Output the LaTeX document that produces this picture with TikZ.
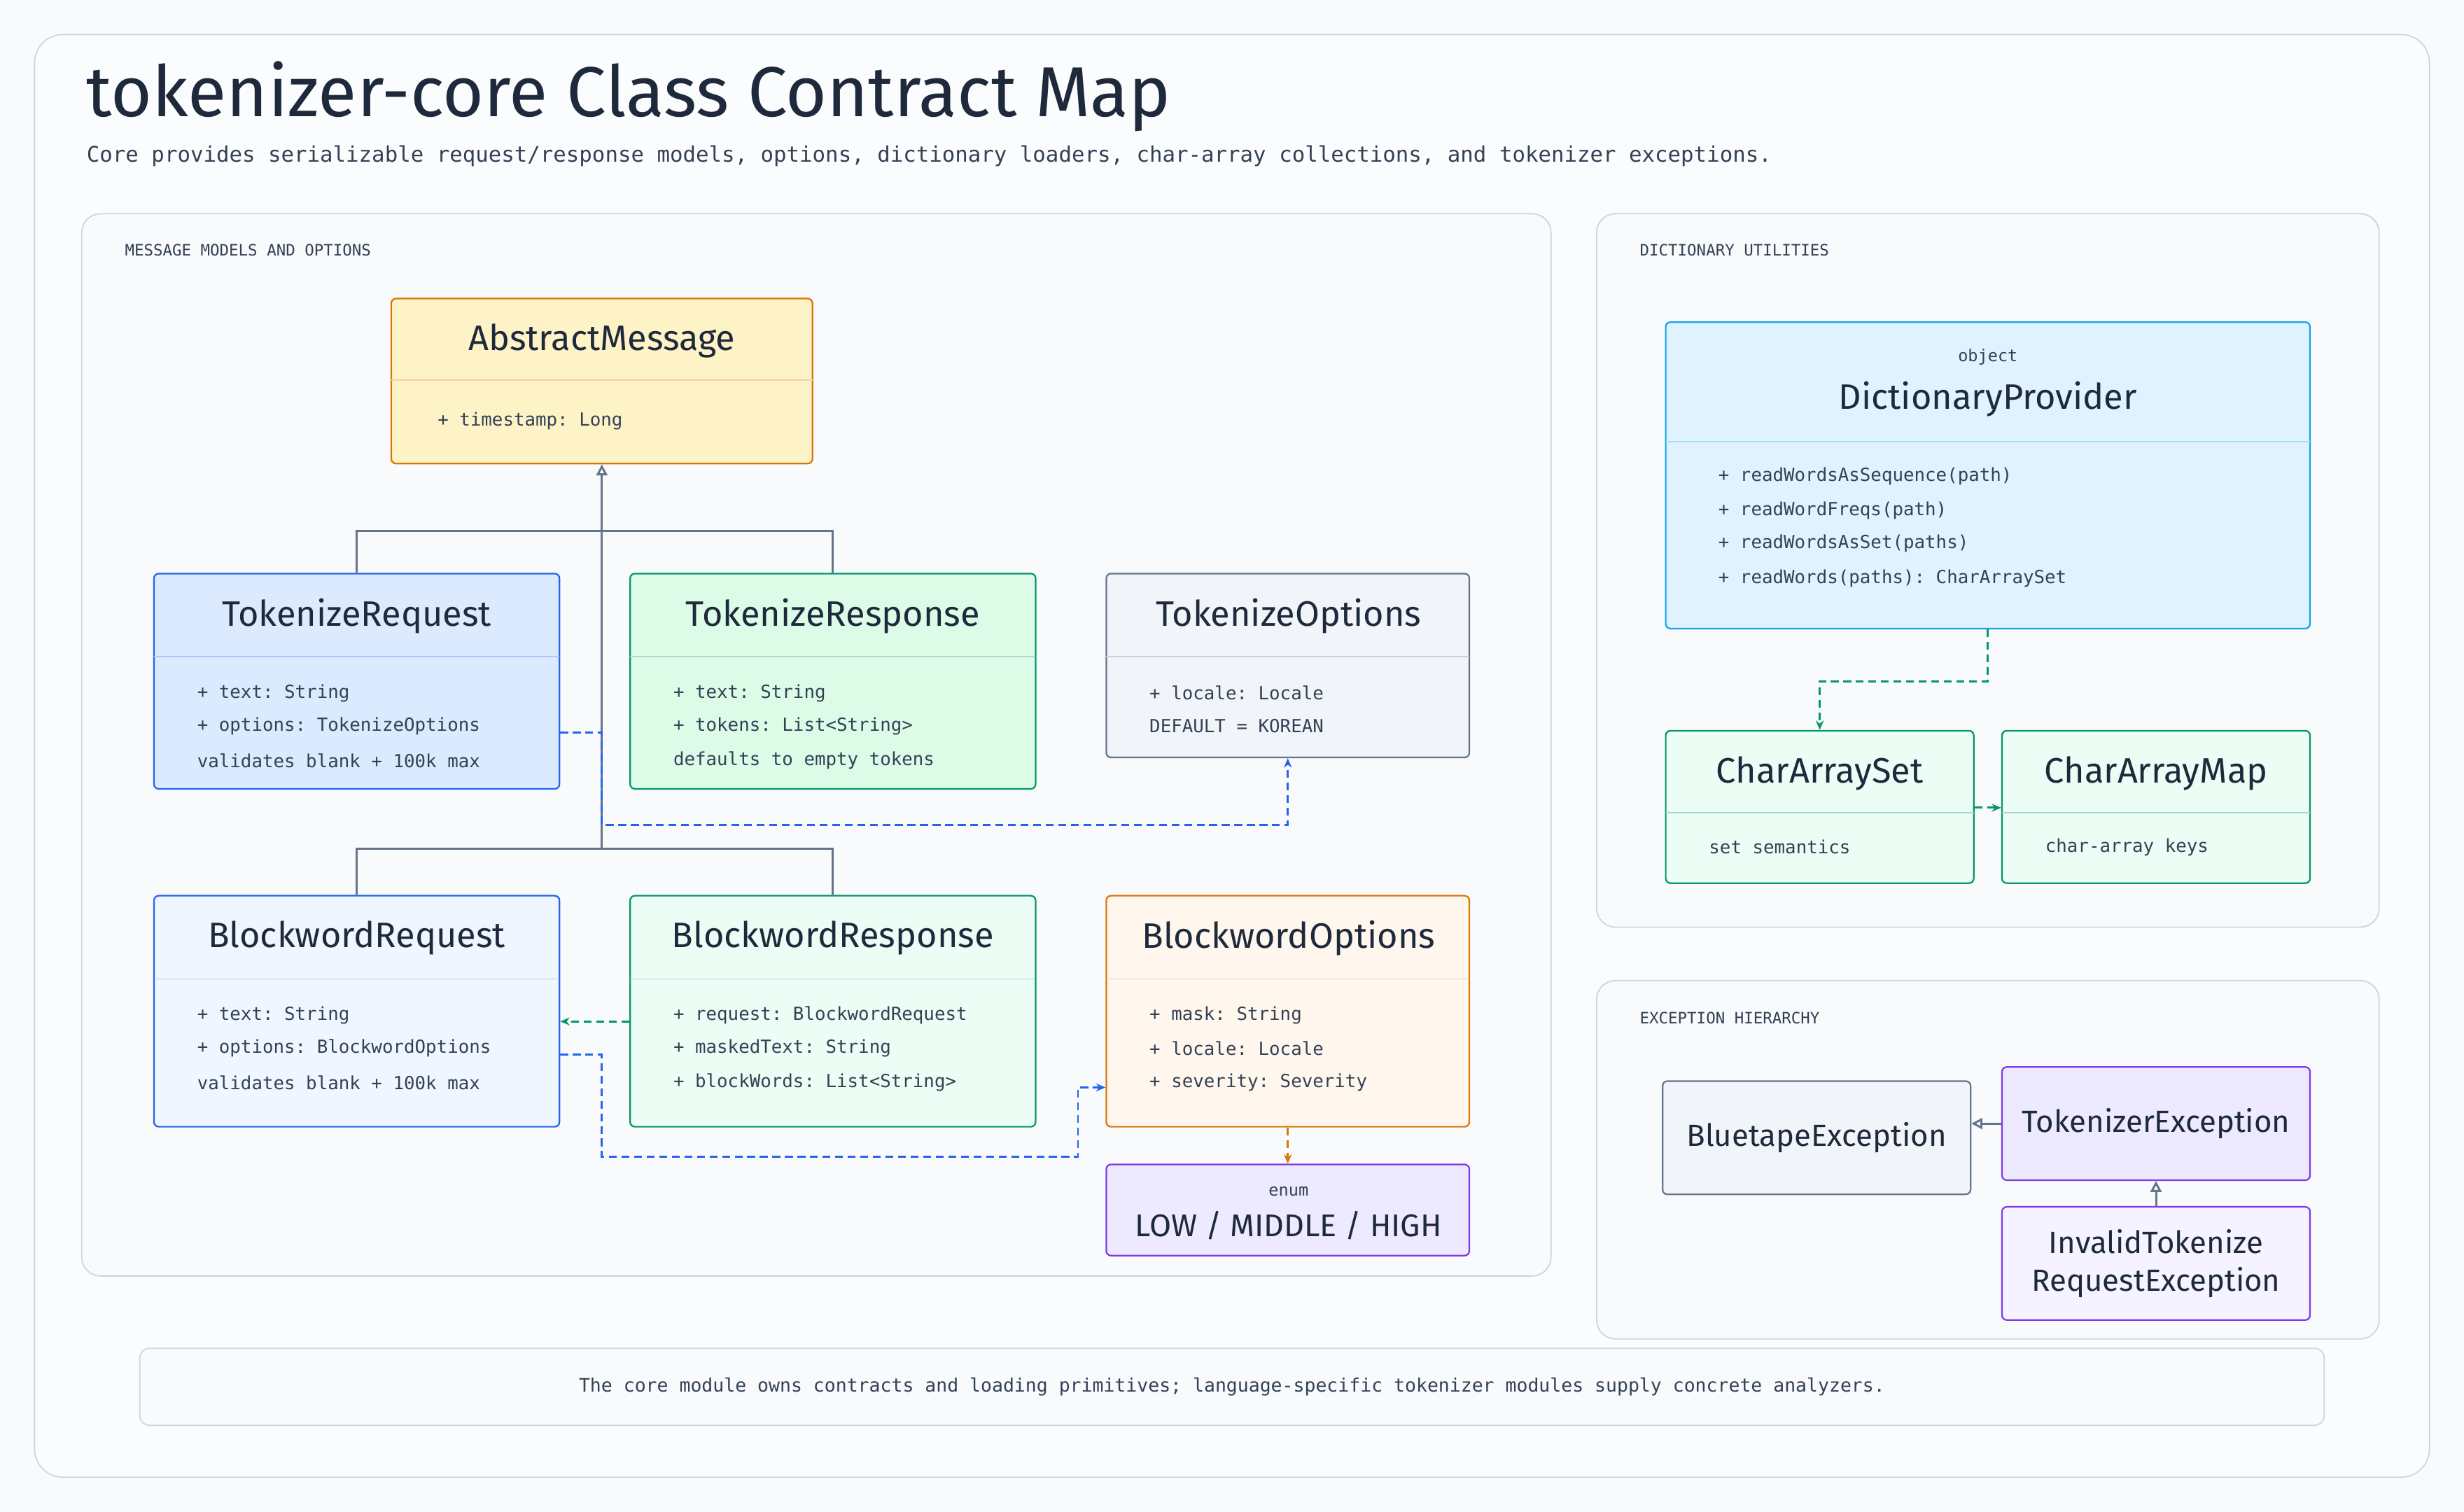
\documentclass[tikz,border=0pt]{standalone}
\usepackage{fontspec}
\setmainfont{Fira Sans}
\setmonofont{DejaVu Sans Mono}
\usetikzlibrary{fit,arrows.meta,calc}
\definecolor{bg}{HTML}{F8FAFC}
\definecolor{bord}{HTML}{CBD5E1}
\definecolor{slate}{HTML}{64748B}
\definecolor{ink}{HTML}{1E293B}
\definecolor{sub}{HTML}{334155}
\definecolor{blueB}{HTML}{2563EB}
\definecolor{greenB}{HTML}{059669}
\definecolor{orangeB}{HTML}{D97706}
\definecolor{purpleB}{HTML}{7C3AED}
\definecolor{skyB}{HTML}{0EA5E9}
\definecolor{fYellow}{HTML}{FEF3C7}
\definecolor{fBlue}{HTML}{DBEAFE}
\definecolor{fBlueL}{HTML}{EFF6FF}
\definecolor{fGreen}{HTML}{DCFCE7}
\definecolor{fGreenL}{HTML}{ECFDF5}
\definecolor{fSlate}{HTML}{F1F5F9}
\definecolor{fOrange}{HTML}{FFF7ED}
\definecolor{fPurple}{HTML}{EDE9FE}
\definecolor{fPurpleL}{HTML}{F5F3FF}
\definecolor{fSky}{HTML}{E0F2FE}
\tikzset{
 box/.style={draw, rounded corners=3pt, line width=1pt, inner sep=0pt},
 panel/.style={draw=bord, rounded corners=12pt, line width=0.8pt, fill=bg, inner sep=0pt},
 ttl/.style={font=\fontsize{22.5}{24}\selectfont, text=ink, anchor=center},
 attr/.style={font=\ttfamily\fontsize{11.5}{13}\selectfont, text=sub, anchor=west},
 plab/.style={font=\ttfamily\fontsize{10}{12}\selectfont, text=sub, anchor=west},
 inh/.style={draw=slate, line width=1.3pt},
 inharr/.style={inh, -{Triangle[open,length=7pt,width=7pt]}},
 dep/.style={line width=1.3pt, dashed, dash pattern=on 5pt off 3pt, -{Stealth[length=6pt,width=5pt]}},
}
\begin{document}
\begin{tikzpicture}[x=1pt,y=-1pt]
\useasboundingbox (0,0) rectangle (1568,962);
\fill[bg] (0,0) rectangle (1568,962);
\node[fit={(22,22)(1546,940)}, draw=bord, fill=white!40!bg, rounded corners=18pt, line width=0.8pt, inner sep=0] (outer) {};
\node[anchor=base west, font=\fontsize{45}{48}\selectfont, text=ink, inner sep=0] (title) at (55,74) {tokenizer-core Class Contract Map};
\node[anchor=base west, font=\ttfamily\fontsize{13.7}{16}\selectfont, text=sub, inner sep=0] (subt) at (55,103) {Core provides serializable request/response models, options, dictionary loaders, char-array collections, and tokenizer exceptions.};
% panels
\node[panel, fit={(52,136)(987,812)}] (p1) {};
\node[panel, fit={(1016,136)(1514,590)}] (p2) {};
\node[panel, fit={(1016,624)(1514,852)}] (p3) {};
\node[plab] (l1) at (76,159) {MESSAGE MODELS AND OPTIONS};
\node[plab] (l2) at (1040,159) {DICTIONARY UTILITIES};
\node[plab] (l3) at (1040,648) {EXCEPTION HIERARCHY};
% footer
\node[fit={(89,858)(1479,907)}, draw=bord, fill=bg, rounded corners=6pt, line width=0.8pt, inner sep=0] (foot) {};
\node[font=\ttfamily\fontsize{11.8}{14}\selectfont, text=sub] (ftxt) at (foot.center) {The core module owns contracts and loading primitives; language-specific tokenizer modules supply concrete analyzers.};
% classes
\newcommand{\cls}[8]{% name x1 y1 x2 y2 fill draw divider-y
 \node[box, fill=#6, draw=#7, fit={(#2,#3)(#4,#5)}] (#1) {};
 \draw[#7!35, line width=0.8pt] (#2,#8) -- (#4,#8);}
\cls{am}{249}{190}{517}{295}{fYellow}{orangeB}{242}
\node[ttl] (amT) at (383,217) {AbstractMessage};
\node[attr] (am1) at (275,268) {+ timestamp: Long};

\cls{treq}{98}{365}{356}{502}{fBlue}{blueB}{418}
\node[ttl] (treqT) at (227,392) {TokenizeRequest};
\node[attr] (treq1) at (122,441) {+ text: String};
\node[attr] (treq2) at (122,462) {+ options: TokenizeOptions};
\node[attr] (treq3) at (122,484) {validates blank + 100k max};

\cls{tres}{401}{365}{659}{502}{fGreen}{greenB}{418}
\node[ttl] (tresT) at (530,392) {TokenizeResponse};
\node[attr] (tres1) at (425,441) {+ text: String};
\node[attr] (tres2) at (425,462) {+ tokens: List<String>};
\node[attr] (tres3) at (425,484) {defaults to empty tokens};

\cls{topt}{704}{365}{935}{482}{fSlate}{slate}{418}
\node[ttl] (toptT) at (820,392) {TokenizeOptions};
\node[attr] (topt1) at (728,441) {+ locale: Locale};
\node[attr] (topt2) at (728,462) {DEFAULT = KOREAN};

\cls{breq}{98}{570}{356}{717}{fBlueL}{blueB}{623}
\node[ttl] (breqT) at (227,597) {BlockwordRequest};
\node[attr] (breq1) at (122,646) {+ text: String};
\node[attr] (breq2) at (122,667) {+ options: BlockwordOptions};
\node[attr] (breq3) at (122,689) {validates blank + 100k max};

\cls{bres}{401}{570}{659}{717}{fGreenL}{greenB}{623}
\node[ttl] (bresT) at (530,597) {BlockwordResponse};
\node[attr] (bres1) at (425,646) {+ request: BlockwordRequest};
\node[attr] (bres2) at (425,667) {+ maskedText: String};
\node[attr] (bres3) at (425,689) {+ blockWords: List<String>};

\cls{bopt}{704}{570}{935}{717}{fOrange}{orangeB}{623}
\node[ttl] (boptT) at (820,597) {BlockwordOptions};
\node[attr] (bopt1) at (728,646) {+ mask: String};
\node[attr] (bopt2) at (728,667) {+ locale: Locale};
\node[attr] (bopt3) at (728,689) {+ severity: Severity};

\node[box, fill=fPurple, draw=purpleB, fit={(704,741)(935,799)}] (enum) {};
\node[font=\ttfamily\fontsize{10.5}{12}\selectfont, text=sub] (enumS) at (820,758) {enum};
\node[font=\fontsize{20}{22}\selectfont, text=ink] (enumT) at (820,780) {LOW / MIDDLE / HIGH};

\cls{dp}{1060}{205}{1470}{400}{fSky}{skyB}{281}
\node[font=\ttfamily\fontsize{10.5}{12}\selectfont, text=sub] (dpS) at (1265,227) {object};
\node[ttl] (dpT) at (1265,254) {DictionaryProvider};
\node[attr] (dp1) at (1090,303) {+ readWordsAsSequence(path)};
\node[attr] (dp2) at (1090,325) {+ readWordFreqs(path)};
\node[attr] (dp3) at (1090,346) {+ readWordsAsSet(paths)};
\node[attr] (dp4) at (1090,368) {+ readWords(paths): CharArraySet};

\cls{cas}{1060}{465}{1256}{562}{fGreenL}{greenB}{517}
\node[ttl] (casT) at (1158,492) {CharArraySet};
\node[attr] (cas1) at (1084,539) {set semantics};
\cls{cam}{1274}{465}{1470}{562}{fGreenL}{greenB}{517}
\node[ttl] (camT) at (1372,492) {CharArrayMap};
\node[attr] (cam1) at (1298,539) {char-array keys};

\node[box, fill=fSlate, draw=slate, fit={(1058,688)(1254,760)}] (bte) {};
\node[font=\fontsize{19.5}{22}\selectfont, text=ink] (bteT) at (bte.center) {BluetapeException};
\node[box, fill=fPurple, draw=purpleB, fit={(1274,679)(1470,751)}] (tke) {};
\node[font=\fontsize{19.5}{22}\selectfont, text=ink] (tkeT) at (tke.center) {TokenizerException};
\node[box, fill=fPurpleL, draw=purpleB, fit={(1274,768)(1470,840)}] (ite) {};
\node[font=\fontsize{19.5}{24}\selectfont, text=ink, align=center] (iteT) at (ite.center) {InvalidTokenize\\RequestException};

% inheritance
\coordinate (j1) at (383,338);
\coordinate (j2) at (383,540);
\draw[inh] (treq.north) |- (tres.north |- j1) -- (tres.north);
\draw[inh] (breq.north) |- (bres.north |- j2) -- (bres.north);
\draw[inharr] (j2) -- (am.south);
% dependencies
\draw[dep, draw=blueB] (treq.east |- {(0,466)}) -- (383,466) -- (383,525) -| (topt.south);
\draw[dep, draw=blueB] (breq.east |- {(0,671)}) -- (383,671) -- (383,736) -- (686,736) -- (686,692) -- (bopt.west |- {(0,692)});
\draw[dep, draw=greenB] (bres.west |- {(0,650)}) -- (breq.east |- {(0,650)});
\draw[dep, draw=orangeB] (bopt.south) -- (enum.north);
\draw[dep, draw=greenB] (dp.south) -- ++(0,33) -| (cas.north);
\draw[dep, draw=greenB] (cas.east |- {(0,514)}) -- (cam.west |- {(0,514)});
\draw[inharr] (tke.west |- {(0,715)}) -- (bte.east |- {(0,715)});
\draw[inharr] (ite.north) -- (tke.south);
\end{tikzpicture}
\end{document}
